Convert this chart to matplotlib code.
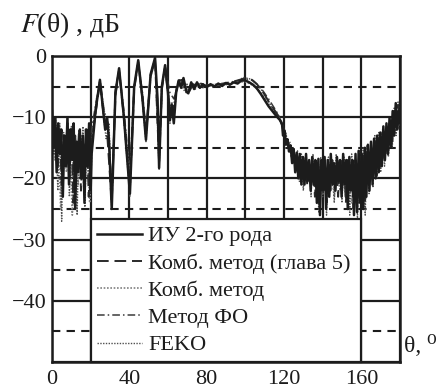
import matplotlib
matplotlib.use("Agg")
import matplotlib.pyplot as plt

plt.rcParams['font.family'] = ['Liberation Serif', 'DejaVu Serif']
plt.rcParams['mathtext.fontset'] = 'stix'

# ИУ 2-го рода
theta_iu = [0, 0.8, 1.6, 2.4, 3.2, 4.0, 4.8, 5.6, 6.4, 7.2, 8.0, 8.8, 9.6, 10.4, 11.2, 12.0,
            12.8, 13.6, 14.4, 15.2, 16.0, 16.8, 17.6, 18.4, 19.2, 20.0,
            20.5, 22.5, 24.8, 26.5, 27.5, 28.5, 29.5, 30.9, 32.8, 34.7, 37.2, 40.3, 42.5, 44.6,
            46.8, 48.6, 51, 53.3, 54.6, 55.4, 56.8, 58.5, 60.0, 61.0, 62.0, 63.0, 64.2, 65.5,
            66.8, 68, 69.5, 70.5, 72, 73.5, 75, 76.5, 78, 80, 82, 84, 86, 88, 90, 92, 94, 96,
            98, 100, 102, 104, 106, 108, 110, 112, 114, 116, 118, 119, 119.5, 120.3, 121,
            121.8, 122.6, 123.4, 124.2, 125, 125.8, 126.6, 127.4, 128.2, 129,
            129.8, 130.6, 131.4, 132.2, 133, 133.8, 134.6, 135.4, 136.2, 137, 137.8, 138.6,
            139.4, 140.2, 141, 141.8, 142.6, 143.4, 144.2, 145, 145.8, 146.6, 147.4, 148.2,
            149, 149.8, 150.6, 151.4, 152.2, 153, 153.8, 154.6, 155.4, 156.2, 157, 157.8,
            158.6, 159.4, 160.2, 161, 161.8, 162.6, 163.4, 164.2, 165, 165.8, 166.6, 167.4,
            168.2, 169, 169.8, 170.6, 171.4, 172.2, 173, 173.8, 174.6, 175.4, 176.2, 177,
            177.8, 178.6, 179.4, 180]
f_iu = [-9, -15, -10, -19, -11, -16, -12, -23, -13, -18, -10, -21, -12, -17, -11, -25,
        -14, -19, -12, -20, -13, -24, -12, -18, -11, -22,
        -16, -9, -3.9, -9, -12, -10, -14, -25, -6, -2, -10, -22.5, -5, -0.7,
        -7, -13.7, -3, -0.3, -7, -18.3, -5, -1.5, -6, -10.5, -8, -11, -6, -4,
        -5.2, -3.6, -5.8, -6.1, -4.3, -5.4, -4.3, -5.2, -4.6, -5.1, -4.6, -5.0, -4.5, -4.9,
        -4.4, -4.7, -4.3, -4.5, -4.0, -4.0, -4.3, -4.7, -5.3, -6.2, -7.2, -8.2, -9.0, -9.8,
        -10.5, -11.2, -13, -12.2, -14.5, -13.6, -15.6, -14.6, -17.5, -15.2, -19, -15.8,
        -20, -16, -21,
        -16.5, -21, -16, -20.5, -17, -22, -16.5, -21, -17, -24, -16.8, -26,
        -17, -22, -16.5, -25, -17, -23, -16, -21, -17.5, -22, -16.5, -20.5,
        -17, -23, -16, -21, -17, -25, -16.5, -22, -17, -26, -16, -25.5,
        -15.5, -24, -16, -25, -15, -23, -14.5, -22, -14, -21, -13.5, -20,
        -13, -19, -12.5, -18, -11.5, -17, -11, -16, -10, -15, -9, -13,
        -7.7, -12, -9, -10]

# Комб. метод (глава 5)
theta_comb5 = [0, 1, 2, 3, 4, 5, 6, 7, 8, 9, 10, 11, 12, 13, 14, 15, 16, 17, 18, 19, 20,
               22.5, 24.8, 27, 28.5, 30.9, 32.8, 34.7, 37.2, 40.3, 42.5, 44.6, 46.8, 48.6,
               51, 53.3, 55.4, 56.8, 58.5, 60.5, 62, 63.5, 65, 67, 69, 71, 73, 75, 77, 80,
               84, 88, 92, 96, 100, 103, 106, 109, 112, 115, 118, 120, 121.5, 123,
               124, 125, 126, 127, 128, 129, 130, 131, 132, 133, 134, 135, 136, 137, 138,
               139, 140, 141, 142, 143, 144, 145, 146, 147, 148, 149, 150, 151, 152, 153,
               154, 155, 156, 157, 158, 159, 160, 161, 162, 163, 164, 165, 166, 167, 168,
               169, 170, 171, 172, 173, 174, 175, 176, 177, 178, 179, 180]
f_comb5 = [-10, -13, -11, -18, -12, -21, -13, -16, -11, -20, -12, -24, -13, -18, -12, -22,
           -14, -19, -12, -23, -15,
           -9.5, -4.2, -10.5, -12.5, -24, -6.5, -2.3, -10, -21.5, -5.5, -1, -7, -13,
           -3.3, -0.6, -17.5, -5.5, -1.8, -7.5, -9.5, -7, -4.3, -3.9, -5.2, -5.8, -4.6,
           -4.9, -4.5, -4.9,
           -4.7, -4.6, -4.3, -4.0, -3.6, -3.8, -4.6, -5.8, -7.4, -8.8, -10.2, -12, -13.8,
           -15,
           -16.5, -15.5, -18.5, -16.5, -19.5, -17, -20, -17, -21, -17.5, -20, -18, -23,
           -17.5, -24, -18, -21, -17, -24, -17.5, -22, -17, -21, -18, -23, -17, -22,
           -17.5, -24, -17, -21, -18, -25, -17, -24, -16.5, -23, -16, -24, -15.5, -21,
           -15, -20, -14, -19.5, -13.5, -18, -12.5, -17, -12, -15.5, -11, -14, -9, -11.5,
           -8, -10]

# Комб. метод
theta_comb = [0, 1.5, 3, 4.5, 6, 7.5, 9, 10.5, 12, 13.5, 15, 16.5, 18, 19.5, 21, 23, 24.8,
              26.5, 28, 29.5, 30.9, 32.8, 34.7, 37.2, 40.3, 42.5, 44.6, 46.8, 48.6, 51,
              53.3, 55.4, 57, 58.5, 60.5, 62, 64, 66, 68, 70, 72, 75, 80, 85, 90, 95, 100,
              104, 108, 112, 116, 119, 121, 123, 125, 126.5, 128, 129.5, 131, 132.5, 134,
              135.5, 137, 138.5, 140, 141.5, 143, 144.5, 146, 147.5, 149, 150.5, 152,
              153.5, 155, 156.5, 158, 159.5, 161, 162.5, 164, 165.5, 167, 168.5, 170,
              171.5, 173, 174.5, 176, 177.5, 179, 180]
f_comb = [-11, -17, -12, -25, -14, -19, -12, -26, -15, -21, -13, -22, -14, -24, -13, -7,
          -4.5, -8, -11, -13, -23, -6, -2.5, -9.5, -20, -5, -1.2, -6.5, -12.5, -3.5,
          -0.8, -16.5, -5, -2, -7, -10, -6, -4.5, -4.2, -5.5, -4.8, -4.6, -4.9, -4.6,
          -4.5, -4.3, -4.2, -4.8, -6.0, -7.8, -9.5, -11, -13.5, -15.5, -17, -16, -19,
          -17.5, -20.5, -18, -21, -18.5, -22, -19, -22.5, -19, -21.5, -19.5, -23, -19,
          -22, -19.5, -23, -19, -24, -18.5, -23, -17.5, -22, -16.5, -20, -15.5, -19,
          -14.5, -17.5, -13, -16, -12, -14, -10, -12, -11]

# Метод ФО
theta_fo = [0, 2, 4, 6, 8, 10, 12, 14, 16, 18, 20, 22, 24.8, 27, 29, 30.9, 32.8, 34.7,
            37.2, 40.3, 42.5, 44.6, 46.8, 48.6, 51, 53.3, 55.4, 57, 58.5, 61, 63, 65, 68,
            72, 76, 80, 85, 90, 95, 100, 104, 108, 112, 116, 119, 121, 123, 126, 130,
            135, 140, 145, 150, 155, 158, 160, 163, 166, 169, 172, 175, 178, 180]
f_fo = [-12, -13, -15, -14, -13, -16, -15, -14, -15, -14, -13, -9, -4, -9, -11, -22,
        -5.5, -2.2, -9, -19, -5, -1, -6, -12, -3, -0.5, -15, -4.5, -1.7, -6, -7, -5,
        -4.5, -4.8, -4.7, -4.8, -4.6, -4.4, -4.1, -3.7, -4.0, -5.2, -7.0, -9.0, -11,
        -13, -15.5, -18, -19.5, -20, -20, -20, -20, -20.5, -20.5, -20, -18.5, -17, -16,
        -14.5, -12.5, -10, -9]

# FEKO
theta_feko = [0, 1, 2, 3, 4, 5, 6, 7, 8, 9, 10, 11, 12, 13, 14, 15, 16, 17, 18, 19, 20,
              22.5, 24.8, 26.5, 28, 29.5, 30.9, 32.8, 34.7, 37.2, 40.3, 42.5, 44.6, 46.8,
              48.6, 51, 53.3, 55.4, 56.8, 58.5, 60, 61, 62, 63, 64.5, 66, 68, 70, 72, 74,
              76, 78, 81, 84, 87, 90, 93, 96, 99, 102, 105, 108, 111, 114, 117, 119, 120,
              121, 122, 123, 124, 125, 126, 127, 128, 129, 130, 131, 132, 133, 134, 135,
              136, 137, 138, 139, 140, 141, 142, 143, 144, 145, 146, 147, 148, 149, 150,
              151, 152, 153, 154, 155, 156, 157, 158, 159, 160, 161, 162, 163, 164, 165,
              166, 167, 168, 169, 170, 171, 172, 173, 174, 175, 176, 177, 178, 179, 180]
f_feko = [-9.5, -16, -10.5, -22, -11, -27, -12.5, -18, -10, -23, -11.5, -20, -13, -26, -12,
          -19, -11.5, -24.7, -13, -21, -15,
          -8.5, -3.7, -9.5, -13.5, -11, -25, -6, -2, -10.5, -23, -5, -0.6, -7.5,
          -14, -3, -0.2, -18.5, -4.8, -1.4, -6.5, -11, -7.5, -10.5, -5.5, -3.7, -5.5,
          -6.2, -4.4, -5.5, -4.4, -5.2, -4.7, -5.1, -4.6, -4.7, -4.4, -4.1, -3.5, -3.7,
          -4.3, -5.4, -6.9, -8.5, -9.9, -11.5, -13,
          -12.5, -14.8, -14, -16.5, -15, -18.5, -15.5, -20.5, -16, -22, -16.5, -19.5,
          -17, -23, -16, -21.5, -17.5, -25.5, -16.5, -23, -17, -26, -16.5, -22, -17,
          -24, -16, -21, -17.5, -24, -16.5, -22, -17, -26, -16, -23, -17, -26.5, -15.5,
          -22.5, -15, -26, -14.5, -22.5, -14, -21.5, -13, -20, -12.5, -19, -12, -18,
          -11.5, -16.5, -10.5, -15, -8.5, -13, -7.5, -9]

x_ticks = [0, 20, 40, 60, 80, 100, 120, 140, 160, 180]
x_labels = ['0', '', '40', '', '80', '', '120', '', '160', '']
y_ticks = [-50, -40, -30, -20, -10, 0]
y_labels = ['', '\u221240', '\u221230', '\u221220', '\u221210', '0']
y_minor = [-45, -35, -25, -15, -5]
legend_labels = ['ИУ 2-го рода', 'Комб. метод (глава 5)', 'Комб. метод', 'Метод ФО', 'FEKO']

ink = '#1c1c1c'

fig = plt.figure(figsize=(4.48, 3.92), dpi=100)
ax = fig.add_axes([52 / 448, 30 / 392, 348 / 448, 306 / 392])

ax.plot(theta_fo, f_fo, color='#3a3a3a', lw=1.1, ls=(0, (5, 2, 1, 2)), label=legend_labels[3])
ax.plot(theta_comb, f_comb, color='#808080', lw=1.2, ls=(0, (1, 1)), label=legend_labels[2])
ax.plot(theta_feko, f_feko, color='#505050', lw=1.0, ls=(0, (1, 1)), label=legend_labels[4])
ax.plot(theta_comb5, f_comb5, color='#2a2a2a', lw=1.4, ls=(0, (6, 3)), label=legend_labels[1])
ax.plot(theta_iu, f_iu, color=ink, lw=1.8, label=legend_labels[0])

ax.set_xlim(0, 180)
ax.set_ylim(-50, 0)
ax.set_xticks(x_ticks)
ax.set_xticklabels(x_labels)
ax.set_yticks(y_ticks)
ax.set_yticklabels(y_labels)
ax.set_yticks(y_minor, minor=True)
ax.tick_params(axis='both', which='both', length=0, labelsize=16, colors=ink)
ax.tick_params(axis='x', pad=6)
ax.tick_params(axis='y', pad=4)
ax.grid(True, which='major', color=ink, lw=1.6)
ax.grid(True, which='minor', axis='y', color=ink, lw=1.5, ls=(0, (4, 3)))
ax.set_axisbelow(True)
for s in ax.spines.values():
    s.set_color(ink)
    s.set_linewidth(1.8)

handles, labels = ax.get_legend_handles_labels()
order = [labels.index(l) for l in legend_labels]
leg = ax.legend([handles[i] for i in order], [labels[i] for i in order],
                loc='lower left', bbox_to_anchor=(20 / 180, 0.0, 140 / 180, 0.46),
                mode='expand', borderaxespad=0, fontsize=16, handlelength=2.0,
                handletextpad=0.3, labelspacing=0.3, borderpad=0.3,
                fancybox=False, framealpha=1, edgecolor=ink, labelcolor=ink)
leg.get_frame().set_linewidth(1.6)

fig.text(20 / 448, 1 - 25 / 392, '$F$(θ) , дБ', fontsize=20, color=ink, va='center', ha='left')
fig.text(404 / 448, 1 - 346 / 392, 'θ, \u2070', fontsize=17, color=ink, va='center', ha='left')

fig.savefig('out.png', dpi=100, facecolor='white')
